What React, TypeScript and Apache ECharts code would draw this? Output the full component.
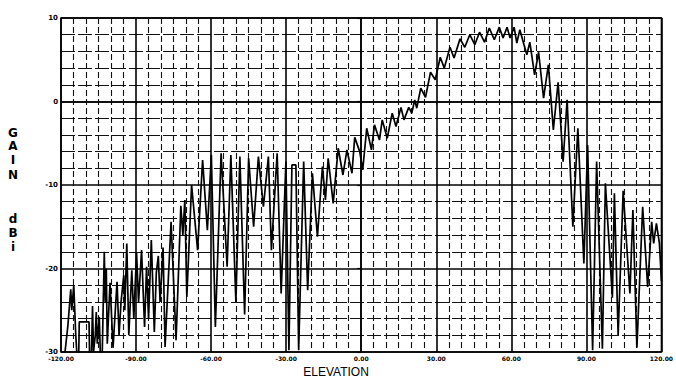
import React, { useEffect, useRef } from "react";
import * as echarts from "echarts";

// Elevation (degrees) and gain (dBi)
const elevation: number[] = [
  -120, -118.4, -117.3, -116.1, -115.7, -114.9, -114.1, -113.7, -112.9, -112.7, -108.8, -108.6,
  -107.8, -107.4, -107.0, -106.3, -105.9, -105.5, -104.7, -104.3, -103.5, -102.7, -102.3, -101.9,
  -101.5, -100.4, -99.2, -97.6, -96.8, -96.0, -94.9, -94.5, -93.7, -92.9, -91.7, -90.9,
  -89.8, -89.0, -87.8, -86.6, -85.8, -85.0, -83.9, -82.7, -81.9, -81.1, -80.4, -79.2,
  -78.4, -76.0, -74.0, -72.1, -71.3, -70.5, -69.7, -67.8, -65.4, -63.4, -61.5, -59.9,
  -58.3, -56.0, -53.6, -52.1, -50.1, -48.5, -46.6, -45.0, -43.0, -41.1, -39.1, -37.1,
  -35.9, -33.6, -32.0, -30.1, -28.9, -27.7, -26.1, -25.0, -23.0, -21.4, -19.5, -17.5,
  -15.5, -14.3, -13.2, -11.2, -9.2, -7.3, -5.7, -3.7, -2.6, -0.6, 0.6, 2.2,
  4.1, 5.3, 7.3, 8.4, 10.4, 12.4, 13.9, 15.9, 17.1, 19.0, 20.2, 21.4,
  22.2, 23.8, 25.7, 27.7, 29.6, 31.6, 33.2, 35.5, 37.1, 39.5, 41.4, 43.4,
  45.4, 47.3, 49.3, 51.2, 53.2, 55.2, 56.7, 58.3, 59.5, 61.1, 62.2, 63.4,
  66.2, 67.4, 69.3, 70.9, 72.9, 74.8, 76.8, 78.7, 80.7, 82.3, 84.6, 86.6,
  89.0, 90.5, 92.5, 94.1, 96.4, 97.6, 100.4, 101.2, 102.7, 104.7, 107.4, 108.6,
  110.2, 112.5, 114.5, 116.1, 116.9, 118.0, 119.2, 120.0,
];

const gain: number[] = [
  -30, -30, -27, -22.5, -25, -22, -28, -30, -30, -26.4, -26.4, -30,
  -30, -24.5, -30, -28, -25.2, -29, -25.8, -30, -30, -18, -24, -20,
  -29, -21.7, -29.5, -21.6, -28, -24, -20.8, -25, -17, -28, -20.2, -26,
  -18.1, -24, -17.8, -27, -19.8, -26, -16.6, -27.6, -20.5, -18.5, -24, -17.5,
  -29.4, -14.4, -28.6, -12.5, -16, -11.8, -23.4, -10, -17.8, -7, -15.4, -6.4,
  -27, -6.2, -19.8, -6.4, -24, -6.6, -25.5, -6.8, -15, -6.6, -12.6, -6.6,
  -17.8, -6.2, -23, -7.2, -29.8, -7.6, -7.6, -29.8, -7.2, -22.6, -8.6, -16.2,
  -7.8, -11.8, -6.8, -12.2, -5.6, -8.8, -5.8, -8.6, -4.3, -6, -8.2, -3.2,
  -5.8, -2.8, -4.6, -2.2, -4.4, -1.4, -3, -0.7, -2.2, -0.7, -1.4, 0.2,
  -0.8, 1.6, 0.5, 3.5, 2.6, 5.3, 4, 6.5, 5.2, 7.5, 6.5, 8,
  6.8, 8.3, 7.1, 8.8, 7.4, 8.9, 7.6, 8.9, 7.6, 8.9, 7, 8.6,
  5.6, 7.1, 3.2, 5.9, 0.4, 4.4, -3.4, 2.3, -7.2, 0.2, -15, -3.2,
  -19.4, -5.2, -29.8, -7.2, -29.6, -9.8, -23.5, -11, -28, -10.7, -23, -13,
  -29.5, -12.6, -22.2, -14.4, -17, -14.6, -17, -21.5,
];

const xTicks: number[] = [-120, -90, -60, -30, 0, 30, 60, 90, 120];
const yTicks: number[] = [-30, -20, -10, 0, 10];
const yNameLetters: string[] = ["G", "A", "I", "N", "d", "B", "i"];
const yNameLetterY: number[] = [133, 146, 160, 175, 219, 233, 247];
const xTitle = "ELEVATION";

export default function App() {
  const ref = useRef<HTMLDivElement>(null);
  useEffect(() => {
    if (!ref.current) return;
    const chart = echarts.init(ref.current, null, { renderer: "svg" });
    const data = elevation.map((e, i) => [e, gain[i]]);
    const font = "'DejaVu Sans', sans-serif";
    chart.setOption({
      animation: false,
      backgroundColor: "#ffffff",
      grid: {
        left: 61,
        right: 4,
        top: 18,
        bottom: 27,
        show: true,
        borderColor: "#000",
        borderWidth: 1.5,
      },
      xAxis: {
        type: "value",
        min: xTicks[0],
        max: xTicks[xTicks.length - 1],
        interval: 30,
        axisLine: { show: true, lineStyle: { color: "#000", width: 1.5 } },
        axisTick: { show: true, length: 3, lineStyle: { color: "#000" } },
        axisLabel: {
          color: "#000",
          fontSize: 6,
          fontWeight: "bold",
          fontFamily: font,
          margin: 3,
          formatter: (v: number) => v.toFixed(2),
        },
        splitLine: { show: true, lineStyle: { color: "#000", width: 1.6 } },
        minorTick: { show: false, splitNumber: 6 },
        minorSplitLine: {
          show: true,
          lineStyle: { color: "#111", width: 1.1, type: [6, 3] },
        },
      },
      yAxis: {
        type: "value",
        min: yTicks[0],
        max: yTicks[yTicks.length - 1],
        interval: 10,
        axisLine: { show: true, lineStyle: { color: "#000", width: 1.5 } },
        axisTick: { show: true, length: 4, lineStyle: { color: "#000", width: 1.2 } },
        axisLabel: {
          color: "#000",
          fontSize: 7,
          fontWeight: "bold",
          fontFamily: font,
          margin: 3,
        },
        splitLine: { show: true, lineStyle: { color: "#000", width: 1.6 } },
        minorTick: { show: false, splitNumber: 5 },
        minorSplitLine: {
          show: true,
          lineStyle: { color: "#111", width: 1.2, type: [14, 3] },
        },
      },
      series: [
        {
          type: "line",
          data,
          showSymbol: false,
          symbol: "none",
          smooth: false,
          lineStyle: { color: "#000", width: 1.7 },
        },
      ],
      graphic: [
        ...yNameLetters.map((ch, i) => ({
          type: "text",
          x: 13,
          y: yNameLetterY[i],
          style: {
            text: ch,
            fill: "#000",
            font: `bold 12px ${font}`,
            textAlign: "center",
            textVerticalAlign: "middle",
          },
        })),
        {
          type: "text",
          x: 336,
          y: 372,
          style: {
            text: xTitle,
            fill: "#000",
            font: "12px 'Liberation Sans', sans-serif",
            textAlign: "center",
            textVerticalAlign: "middle",
          },
        },
      ],
    });
    return () => chart.dispose();
  }, []);
  return (
    <div
      ref={ref}
      style={{ position: "fixed", left: 0, top: 0, width: 676, height: 379 }}
    />
  );
}
